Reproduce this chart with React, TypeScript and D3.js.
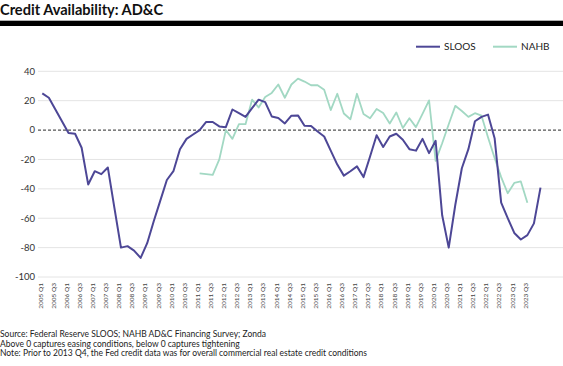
import React from "react";
import * as d3 from "d3";

// Categories: quarters 2005 Q1 .. 2024 Q1
const quarterYears = d3.range(2005, 2025);
const allQuarters: string[] = [];
for (const yr of quarterYears) for (const q of [1, 2, 3, 4]) allQuarters.push(`${yr} Q${q}`);
const categories = allQuarters.slice(0, 77);

// SLOOS (net % easing, AD&C / CRE), one value per quarter from 2005 Q1
const sloos = [
  25, 22, 14, 6, -2, -2.5, -12, -37, -28, -30,
  -25.5, -53, -80, -79, -82, -87, -77, -62, -48, -34,
  -28, -13, -6, -3, 0, 5.5, 5.5, 2.5, 2, 14,
  11.5, 9, 15, 20.7, 19, 9.3, 8.2, 4.5, 9.8, 10,
  2.9, 2.7, -1, -4.4, -14, -23.5, -31, -28, -24.7, -32,
  -18, -3.5, -11.5, -4.4, -2.5, -6.6, -13, -14, -6, -15.7,
  -7.3, -58, -80, -51, -26, -13, 6, 9, 10.5, -5.5,
  -49.4, -60, -70, -74.5, -71.5, -63.5, -39.2,
];

// NAHB AD&C Financing Survey, starting 2011 Q1
const nahbStart = "2011 Q1";
const nahbValues = [
  -29.5, -30, -30.5, -20, 0, -6, 4, 4, 20.7, 15.4,
  22.5, 25.3, 31, 22, 31, 35, 33, 30.5, 30.5, 27.5,
  13.6, 24.7, 11.3, 7.4, 24.7, 11, 8, 14.4, 11.6, 4.5,
  12, 1.4, 8, 2, 11, 20.2, -21, -9, 4, 16.5,
  13, 9, 11.5, 9.8, -5, -19, -32, -43, -36, -35,
  -49.4,
];

const yTicks = [40, 20, 0, -20, -40, -60, -80, -100];
const xTickLabels = categories.filter((_, i) => i % 2 === 0 && i <= 74);

const seriesNames = ["SLOOS", "NAHB"];
const seriesColors = ["#4d4796", "#a2d8c3"];

const footnotes = [
  "Source: Federal Reserve SLOOS; NAHB AD&C Financing Survey; Zonda",
  "Above 0 captures easing conditions, below 0 captures tightening",
  "Note: Prior to 2013 Q4, the Fed credit data was for overall commercial real estate credit conditions",
];

const W = 563;
const H = 366;
const FONT = "Lato, 'Noto Sans', sans-serif";

export default function App() {
  const x = d3.scalePoint<string>().domain(categories).range([42.3, 540.5]);
  const y = d3.scaleLinear().domain([-100, 40]).range([277, 71.3]);

  const sloosPts = categories.map((c, i) => ({ c, v: sloos[i] }));
  const s0 = categories.indexOf(nahbStart);
  const nahbPts = nahbValues.map((v, i) => ({ c: categories[s0 + i], v }));

  const line = d3
    .line<{ c: string; v: number }>()
    .x((d) => x(d.c) as number)
    .y((d) => y(d.v));

  const gridX0 = 38;
  const gridX1 = 563;

  return (
    <svg
      width={W}
      height={H}
      style={{ position: "absolute", left: 0, top: 0, background: "#fff" }}
      fontFamily={FONT}
    >
      <text x={0} y={15} fontSize={14.6} fontWeight={700} fill="#111">
        Credit Availability: AD&amp;C
      </text>
      <rect x={0} y={20.7} width={W} height={5.3} fill="#000" />

      {yTicks.map((t) => (
        <g key={t}>
          {t !== 0 && (
            <line x1={gridX0} x2={gridX1} y1={y(t)} y2={y(t)} stroke="#e4e4e4" strokeWidth={1} />
          )}
          <text
            x={35}
            y={y(t)}
            dy="0.35em"
            textAnchor="end"
            fontSize={9.5}
            fill="#333"
          >
            {t}
          </text>
        </g>
      ))}
      <line
        x1={gridX0}
        x2={gridX1}
        y1={y(0)}
        y2={y(0)}
        stroke="#555"
        strokeWidth={1.2}
        strokeDasharray="3,2"
      />

      {xTickLabels.map((c) => (
        <text
          key={c}
          transform={`translate(${(x(c) as number) - 2},283) rotate(-90)`}
          textAnchor="end"
          dy="0.35em"
          fontSize={6.5}
          fill="#444"
        >
          {c}
        </text>
      ))}

      <path d={line(nahbPts) || ""} fill="none" stroke={seriesColors[1]} strokeWidth={1.8} strokeLinejoin="round" />
      <path d={line(sloosPts) || ""} fill="none" stroke={seriesColors[0]} strokeWidth={2} strokeLinejoin="round" />

      {seriesNames.map((n, i) => {
        const lx = i === 0 ? 416 : 493;
        return (
          <g key={n}>
            <line x1={lx} x2={lx + 24} y1={46.7} y2={46.7} stroke={seriesColors[i]} strokeWidth={2} />
            <text x={lx + 28} y={46.7} dy="0.35em" fontSize={10} fill="#222">
              {n}
            </text>
          </g>
        );
      })}

      {footnotes.map((f, i) => (
        <text key={i} x={0} y={337 + i * 9.6} fontSize={8.5} fill="#222">
          {f}
        </text>
      ))}
    </svg>
  );
}
